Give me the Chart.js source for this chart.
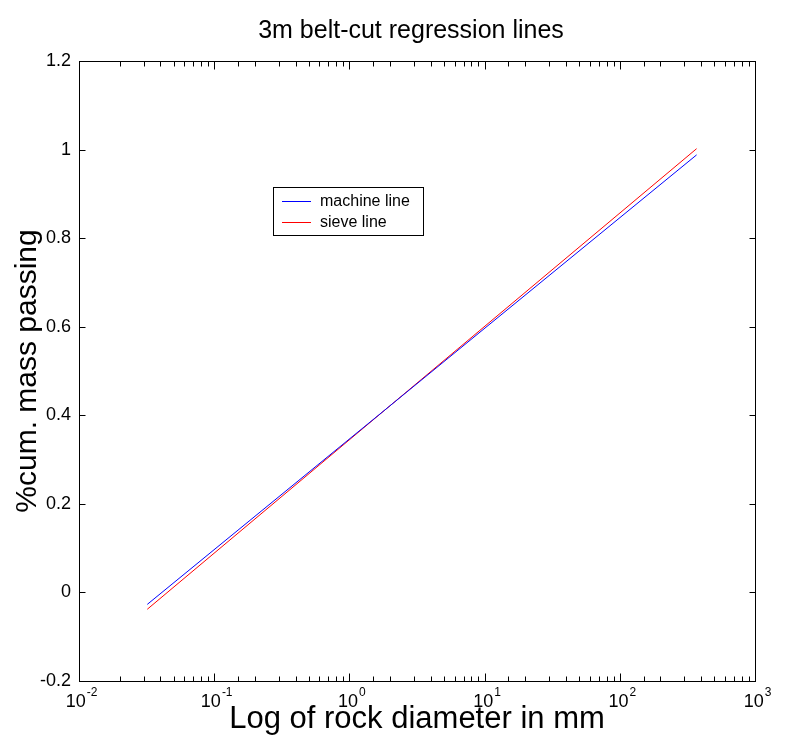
<!DOCTYPE html>
<html>
<head>
<meta charset="utf-8">
<title>3m belt-cut regression lines</title>
<script src="https://cdn.jsdelivr.net/npm/chart.js@4/dist/chart.umd.min.js"></script>
<style>
  html, body { margin: 0; padding: 0; background: #fff; }
  #wrap { width: 793px; height: 747px; }
</style>
</head>
<body>
<div id="wrap"><canvas id="c" width="793" height="747"></canvas></div>
<script>
// Rock diameter (mm) at the two ends of each fitted regression line
const diameters = [0.032, 370];
// %cum. mass passing at those diameters
const machineLine = [-0.027, 0.988];
const sieveLine = [-0.038, 1.002];
// Decade exponents labelled on the log x axis
const xExponents = [-2, -1, 0, 1, 2, 3];
const seriesNames = ['machine line', 'sieve line'];
const seriesColors = ['#0000ff', '#ff0000'];
const chartTitle = '3m belt-cut regression lines';

const FONT = "'Liberation Sans', Arial, sans-serif";

function toPoints(xs, ys) {
  return xs.map((x, i) => ({ x: x, y: ys[i] }));
}

// Title, box, inward tick marks, power-of-ten labels and the legend box
const framePlugin = {
  id: 'frame',
  afterDraw(chart) {
    const { ctx, chartArea, scales } = chart;
    const { left, right, top, bottom } = chartArea;
    const xs = scales.x, ys = scales.y;
    ctx.save();

    ctx.fillStyle = '#000';
    ctx.font = '25px ' + FONT;
    ctx.textAlign = 'center';
    ctx.textBaseline = 'middle';
    ctx.fillText(chartTitle, (left + right) / 2 - 6, 31);

    ctx.strokeStyle = '#000';
    ctx.lineWidth = 1;
    const L = Math.round(left) + 0.5, R = Math.round(right) + 0.5;
    const T = Math.round(top) + 0.5, B = Math.round(bottom) + 0.5;
    ctx.strokeRect(L, T, R - L, B - T);

    ctx.beginPath();
    xs.ticks.forEach(t => {
      const lg = Math.log10(t.value);
      const major = Math.abs(lg - Math.round(lg)) < 1e-9;
      const len = major ? 8 : 5;
      const px = Math.round(xs.getPixelForValue(t.value)) + 0.5;
      if (px <= L + 0.5 || px >= R - 0.5) return;
      ctx.moveTo(px, B); ctx.lineTo(px, B - len);
      ctx.moveTo(px, T); ctx.lineTo(px, T + len);
    });
    ys.ticks.forEach(t => {
      const py = Math.round(ys.getPixelForValue(t.value)) + 0.5;
      if (py <= T + 0.5 || py >= B - 0.5) return;
      ctx.moveTo(L, py); ctx.lineTo(L + 6, py);
      ctx.moveTo(R, py); ctx.lineTo(R - 6, py);
    });
    ctx.stroke();

    // x tick labels as 10 with a raised exponent
    ctx.fillStyle = '#000';
    ctx.textBaseline = 'alphabetic';
    ctx.textAlign = 'left';
    xExponents.forEach(e => {
      const px = xs.getPixelForValue(Math.pow(10, e));
      ctx.font = '18px ' + FONT;
      const bw = ctx.measureText('10').width;
      ctx.font = '12px ' + FONT;
      const expText = e < 0 ? '-' + Math.abs(e) : String(e);
      const ew = ctx.measureText(expText).width;
      const x0 = px - (bw + ew) / 2 + 2;
      ctx.font = '18px ' + FONT;
      ctx.fillText('10', x0, B + 25);
      ctx.font = '12px ' + FONT;
      ctx.fillText(expText, x0 + bw + 1, B + 14);
    });

    // legend box
    const bx = 273, by = 187, bw2 = 150, bh = 48;
    ctx.fillStyle = '#fff';
    ctx.fillRect(bx, by, bw2, bh);
    ctx.strokeStyle = '#000';
    ctx.strokeRect(bx + 0.5, by + 0.5, bw2, bh);
    ctx.font = '16px ' + FONT;
    ctx.textBaseline = 'middle';
    chart.data.datasets.forEach((ds, i) => {
      const ry = by + 14 + i * 21 + 0.5;
      ctx.strokeStyle = ds.borderColor;
      ctx.beginPath();
      ctx.moveTo(bx + 9, ry);
      ctx.lineTo(bx + 38, ry);
      ctx.stroke();
      ctx.fillStyle = '#000';
      ctx.fillText(ds.label, bx + 47, ry);
    });
    ctx.restore();
  }
};

new Chart(document.getElementById('c'), {
  type: 'scatter',
  data: {
    datasets: [
      {
        label: seriesNames[0],
        data: toPoints(diameters, machineLine),
        showLine: true,
        borderColor: seriesColors[0],
        backgroundColor: seriesColors[0],
        borderWidth: 1,
        pointRadius: 0
      },
      {
        label: seriesNames[1],
        data: toPoints(diameters, sieveLine),
        showLine: true,
        borderColor: seriesColors[1],
        backgroundColor: seriesColors[1],
        borderWidth: 1,
        pointRadius: 0
      }
    ]
  },
  options: {
    responsive: false,
    animation: false,
    devicePixelRatio: 1,
    layout: { padding: { left: 0, right: 38, top: 61, bottom: 0 } },
    plugins: {
      legend: { display: false },
      tooltip: { enabled: false },
      title: { display: false }
    },
    scales: {
      x: {
        type: 'logarithmic',
        min: 0.01,
        max: 1000,
        grid: { display: false, drawTicks: false },
        border: { display: false },
        ticks: { display: false },
        title: {
          display: true,
          text: 'Log of rock diameter in mm',
          color: '#000',
          font: { family: FONT, size: 31, weight: 'normal' },
          padding: { top: 0, bottom: 9 }
        },
        afterFit(scale) { scale.height = 66; }
      },
      y: {
        type: 'linear',
        min: -0.2,
        max: 1.2,
        grid: { display: false, drawTicks: false },
        border: { display: false },
        ticks: {
          stepSize: 0.2,
          padding: 8,
          color: '#000',
          font: { family: FONT, size: 18 },
          callback: v => String(+v.toFixed(1))
        },
        title: {
          display: true,
          text: '%cum. mass passing',
          color: '#000',
          font: { family: FONT, size: 30, weight: 'normal' },
          padding: { top: 10, bottom: 0 }
        },
        afterFit(scale) { scale.width = 79; }
      }
    }
  },
  plugins: [framePlugin]
});
</script>
</body>
</html>
